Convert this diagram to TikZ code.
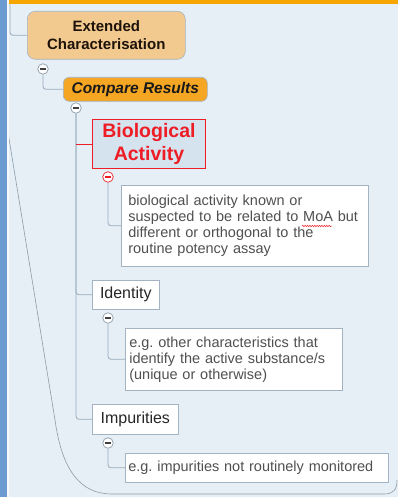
\documentclass[tikz,border=0pt]{standalone}
\usepackage{fontspec}
\setmainfont{Liberation Sans}
\usetikzlibrary{decorations.pathmorphing}
\frenchspacing

\definecolor{bgcol}{HTML}{E6EFF6}
\definecolor{sidebar}{HTML}{6B9BD0}
\definecolor{topbar}{HTML}{F7A600}
\definecolor{linecol}{HTML}{98AABB}
\definecolor{edgecol}{HTML}{8E9AA6}
\definecolor{peach}{HTML}{F2C98E}
\definecolor{orangefill}{HTML}{F5A623}
\definecolor{bioblue}{HTML}{D5E3EF}
\definecolor{bioRed}{HTML}{EE1C25}
\definecolor{boxedge}{HTML}{A3B3C2}
\definecolor{desctext}{HTML}{505050}

\tikzset{
  conn/.style={draw=linecol, line width=0.8pt, rounded corners=3pt},
  topic/.style={anchor=north west, draw=boxedge, line width=0.6pt, inner sep=0pt},
  subtopic/.style={topic, fill=white, text=black!85, font=\fontsize{16}{19}\selectfont},
  desc/.style={topic, fill=white, text=desctext, align=left,
    font=\fontsize{14.5}{16}\selectfont},
  toggle/.style={circle, draw=edgecol, fill=white, line width=0.7pt,
    minimum size=10.5pt, inner sep=0pt,
    path picture={\draw[black!75, line width=1.1pt]
      ([xshift=-2.6pt]path picture bounding box.center) --
      ([xshift=2.6pt]path picture bounding box.center);}},
  redtoggle/.style={toggle, draw=bioRed,
    path picture={\draw[bioRed, line width=1.1pt]
      ([xshift=-2.6pt]path picture bounding box.center) --
      ([xshift=2.6pt]path picture bounding box.center);}},
}

\begin{document}
\begin{tikzpicture}[x=1pt, y=-1pt]
  % canvas
  \fill[bgcol] (0,0) rectangle (398,497);
  \useasboundingbox (0,0) rectangle (398,497);

  % outline of the branch group
  \draw[edgecol, line width=0.6pt]
    (4,108) -- (55,420) .. controls (62,470) and (80,494) .. (112,494)
    -- (384,494) .. controls (393,494) and (397,490) .. (397,480);

  % frame bars
  \fill[sidebar] (0,0) rectangle (7,497);
  \fill[white!60!bgcol] (7,0) rectangle (9,497);
  \fill[topbar] (9,0) rectangle (398,4.5);

  % main topic chain
  \node[topic, rounded corners=8pt, fill=peach, minimum width=158pt,
        minimum height=48pt, align=center, text=black!85!brown,
        font=\fontsize{15}{18}\selectfont\bfseries]
        (ext) at (27,11) {Extended\\Characterisation};
  \node[topic, rounded corners=6pt, fill=orangefill, minimum width=144pt,
        minimum height=24pt, text=black!90,
        font=\fontsize{15.5}{18}\selectfont\bfseries\itshape]
        (cmp) at (63,77) {Compare Results};

  \node[topic, draw=bioRed, line width=1pt, fill=bioblue, minimum width=113pt,
        minimum height=49pt, align=center, text=bioRed,
        font=\fontsize{19.5}{23}\selectfont\bfseries]
        (bio) at (92,119) {Biological\\Activity};
  \node[subtopic, minimum width=67pt, minimum height=29pt] (idn) at (92,280) {Identity};
  \node[subtopic, minimum width=86pt, minimum height=30pt] (imp) at (92,404) {Impurities};

  % descriptions
  \node[desc, minimum width=247pt, minimum height=81pt, text width=233pt,
        inner xsep=7pt] (d1) at (121,185)
    {biological activity known or\\suspected to be related to MoA but\\different or orthogonal to the\\routine potency assay};
  \node[desc, minimum width=217pt, minimum height=62pt, text width=209pt,
        inner xsep=4pt] (d2) at (125,328)
    {e.g. other characteristics that\\identify the active substance/s\\(unique or otherwise)};
  \node[desc, minimum width=263pt, minimum height=29pt, text width=257pt,
        inner xsep=3pt] (d3) at (125,453)
    {e.g. impurities not routinely monitored};

  % collapse toggles
  \node[toggle] (t1) at (43,69) {};
  \node[toggle] (t2) at (76,108) {};
  \node[redtoggle] (t3) at (108,177) {};
  \node[toggle] (t4) at (108,318) {};
  \node[toggle] (t5) at (108,443) {};

  % connectors
  \coordinate (root) at (10,4.5);
  \draw[conn] (root) |- (ext.west);
  \draw[conn] (t1.south) |- (cmp.west);
  \draw[conn] (t2.south) |- (imp.west);
  \draw[conn] (t2.south) |- (idn.west);
  \draw[bioRed, line width=0.8pt] (bio.west -| t2) -- (bio.west);
  \draw[conn] (t3.south) |- (d1.west);
  \draw[conn] (t4.south) |- (d2.west);
  \draw[conn] (t5.south) |- (d3.west);

  % spell-check squiggle under the abbreviation
  \draw[bioRed, line width=0.5pt, decorate,
        decoration={snake, amplitude=0.7pt, segment length=2.4pt}]
    (302,226) -- (332,226);
\end{tikzpicture}
\end{document}
